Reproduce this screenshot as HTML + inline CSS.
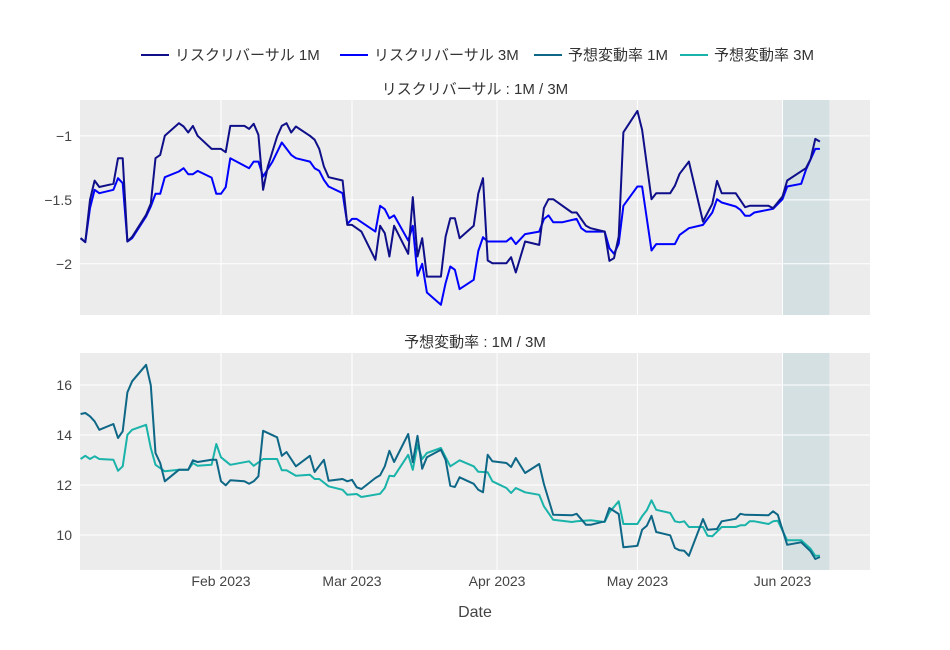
<!DOCTYPE html>
<html><head><meta charset="utf-8"><style>
html,body{margin:0;padding:0;background:#fff;}
svg{display:block;font-family:"Liberation Sans","Noto Sans CJK JP",sans-serif;}
</style></head><body>
<svg id="chart" width="950" height="650" viewBox="0 0 950 650" xmlns="http://www.w3.org/2000/svg"></svg>
<script>
// days since 2023-01-01
const rr1mDays=[1,2,3,4,5,8,9,10,11,12,15,16,17,18,19,22,23,24,25,26,29,31,32,33,36,37,38,39,40,41,43,44,45,46,47,50,51,52,53,54,57,58,59,61,64,65,66,67,68,71,72,73,74,75,78,79,80,81,82,85,86,87,88,89,92,93,94,96,99,100,101,102,106,107,109,110,113,114,115,116,117,120,121,123,124,127,128,129,131,134,136,137,138,141,143,144,148,149,151,152,156,157,158,159];
const rr1mValues=[-1.80,-1.83,-1.50,-1.35,-1.40,-1.375,-1.175,-1.175,-1.826,-1.79,-1.617,-1.53,-1.175,-1.149,-1.0,-0.901,-0.927,-0.974,-0.922,-1.0,-1.102,-1.102,-1.128,-0.922,-0.922,-0.946,-0.906,-0.992,-1.422,-1.24,-1.005,-0.922,-0.901,-0.974,-0.927,-1.0,-1.03,-1.104,-1.24,-1.323,-1.349,-1.696,-1.696,-1.748,-1.969,-1.703,-1.761,-1.943,-1.703,-1.922,-1.479,-1.943,-1.80,-2.10,-2.10,-1.787,-1.644,-1.644,-1.80,-1.703,-1.45,-1.331,-1.974,-1.995,-1.995,-1.948,-2.068,-1.826,-1.852,-1.565,-1.495,-1.495,-1.599,-1.599,-1.703,-1.722,-1.748,-1.977,-1.956,-1.787,-0.972,-0.805,-0.953,-1.495,-1.448,-1.448,-1.39,-1.297,-1.201,-1.67,-1.531,-1.352,-1.448,-1.448,-1.558,-1.547,-1.547,-1.565,-1.474,-1.349,-1.253,-1.182,-1.024,-1.045];
const rr3mDays=[1,2,3,4,5,8,9,10,11,12,15,16,17,18,19,22,23,24,25,26,29,30,31,32,33,37,38,39,40,42,44,46,47,50,51,52,53,54,57,58,59,60,64,65,66,67,68,71,72,73,74,75,78,79,80,81,82,85,86,87,88,92,93,94,96,99,100,101,102,104,107,108,109,113,114,115,116,117,120,121,123,124,128,129,131,134,136,137,138,141,142,143,144,145,149,151,152,155,156,158,159];
const rr3mValues=[-1.80,-1.83,-1.565,-1.422,-1.448,-1.422,-1.331,-1.37,-1.826,-1.80,-1.63,-1.552,-1.453,-1.453,-1.323,-1.279,-1.253,-1.30,-1.30,-1.274,-1.326,-1.453,-1.453,-1.401,-1.175,-1.253,-1.201,-1.201,-1.318,-1.201,-1.052,-1.149,-1.175,-1.201,-1.253,-1.274,-1.344,-1.396,-1.448,-1.688,-1.649,-1.649,-1.748,-1.547,-1.573,-1.644,-1.622,-1.818,-1.703,-2.094,-2.0,-2.224,-2.32,-2.151,-2.021,-2.047,-2.198,-2.125,-1.90,-1.792,-1.826,-1.826,-1.795,-1.846,-1.768,-1.748,-1.651,-1.622,-1.675,-1.675,-1.649,-1.722,-1.748,-1.748,-1.878,-1.922,-1.844,-1.547,-1.396,-1.396,-1.896,-1.846,-1.846,-1.774,-1.722,-1.696,-1.599,-1.495,-1.521,-1.552,-1.578,-1.625,-1.625,-1.599,-1.57,-1.495,-1.396,-1.375,-1.266,-1.102,-1.102];
const iv1mDays=[1,2,3,4,5,8,9,10,11,12,15,16,17,18,19,22,24,25,26,29,30,31,32,33,36,37,38,39,40,43,44,45,47,50,51,53,54,57,58,59,60,61,64,65,66,67,68,71,72,73,74,75,78,79,80,81,82,85,86,87,88,89,92,93,94,96,99,100,102,106,107,109,110,113,114,116,117,120,121,122,123,124,127,128,129,130,131,134,135,137,138,141,142,143,148,149,150,152,155,157,158,159];
const iv1mValues=[14.84,14.88,14.75,14.55,14.21,14.44,13.88,14.15,15.71,16.15,16.81,15.99,13.28,12.88,12.15,12.61,12.61,12.99,12.92,13.01,13.01,12.15,11.99,12.19,12.15,12.05,12.15,12.35,14.17,13.91,13.17,13.32,12.75,13.17,12.52,13.01,12.17,12.24,12.15,12.21,11.91,11.84,12.28,12.39,12.75,13.37,12.92,14.04,12.91,13.97,12.65,13.11,13.41,13.01,11.97,11.92,12.31,12.05,11.81,11.71,13.21,12.95,12.88,12.72,13.08,12.48,12.84,12.04,10.81,10.79,10.85,10.41,10.41,10.55,11.08,10.84,9.51,9.57,10.21,10.37,10.77,10.12,9.99,9.48,9.39,9.37,9.17,10.64,10.21,10.24,10.55,10.65,10.85,10.81,10.79,10.95,10.81,9.61,9.71,9.35,9.04,9.12];
const iv3mDays=[1,2,3,4,5,8,9,10,11,12,15,16,17,19,22,24,25,26,29,30,31,33,37,38,40,43,44,45,47,50,51,52,54,57,58,60,61,65,66,67,68,71,72,73,74,75,78,80,82,85,86,88,89,92,93,94,96,99,100,102,106,107,110,113,114,116,117,120,121,122,123,124,127,128,129,130,131,134,135,136,138,141,142,143,144,145,148,149,150,152,155,157,158,159];
const iv3mValues=[13.04,13.17,13.04,13.15,13.04,13.01,12.57,12.75,14.01,14.21,14.41,13.48,12.81,12.55,12.61,12.61,12.88,12.77,12.81,13.64,13.11,12.81,12.95,12.77,13.04,13.04,12.59,12.59,12.37,12.41,12.24,12.24,11.95,11.81,11.61,11.64,11.52,11.65,11.88,12.37,12.35,13.21,12.61,13.61,13.04,13.28,13.48,12.75,12.99,12.75,12.53,12.51,12.15,11.88,11.68,11.88,11.71,11.61,11.15,10.61,10.52,10.55,10.59,10.52,10.91,11.35,10.44,10.44,10.75,10.99,11.39,11.01,10.88,10.55,10.51,10.55,10.32,10.32,9.97,9.95,10.32,10.32,10.39,10.39,10.55,10.55,10.44,10.55,10.57,9.79,9.79,9.45,9.17,9.17];
const xTickDays=[31,59,90,120,151];
const xTickLabels=["Feb 2023","Mar 2023","Apr 2023","May 2023","Jun 2023"];
const topTicks=[-1,-1.5,-2];
const topTickLabels=["−1","−1.5","−2"];
const botTicks=[10,12,14,16];
const botTickLabels=["10","12","14","16"];
const shadeDays=[151,161];

const NS="http://www.w3.org/2000/svg";
const svg=document.getElementById('chart');
const X0=80,X1=870,D0=0.87,D1=169.7;
const xs=d=>X0+(d-D0)/(D1-D0)*(X1-X0);
const topP={y0:100,y1:315,v0:-0.72,v1:-2.40};
const botP={y0:353,y1:570,v0:17.28,v1:8.6};
const ys=(p,v)=>p.y0+(v-p.v0)/(p.v1-p.v0)*(p.y1-p.y0);
function mk(tag,attrs,parent){const e=document.createElementNS(NS,tag);for(const k in attrs)e.setAttribute(k,attrs[k]);(parent||svg).appendChild(e);return e;}

function panel(p,name,ticks,labels,title){
  const g=mk('g',{});
  
  
  const bg=mk('rect',{x:X0,y:p.y0,width:X1-X0,height:p.y1-p.y0,fill:'#ececec'},g);
  
  
  const sh=mk('rect',{x:xs(shadeDays[0]),y:p.y0,width:xs(shadeDays[1])-xs(shadeDays[0]),height:p.y1-p.y0,fill:'#d5e0e3'},g);
  
  
  xTickDays.forEach(d=>{const l=mk('line',{x1:xs(d),x2:xs(d),y1:p.y0,y2:p.y1,stroke:'#fff','stroke-width':1},g);
    
    });
  ticks.forEach((v,i)=>{const y=ys(p,v);
    const l=mk('line',{x1:X0,x2:X1,y1:y,y2:y,stroke:'#fff','stroke-width':1},g);
    
    
    const t=mk('text',{x:72,y:y+5,'text-anchor':'end','font-size':14,fill:'#444'},g);t.textContent=labels[i];
    
    });
  const tt=mk('text',{x:475,y:p.y0-6,'text-anchor':'middle','font-size':15,fill:'#333'},g);tt.textContent=title;
  
  
}
panel(topP,'risk-reversal-panel',topTicks,topTickLabels,'リスクリバーサル : 1M / 3M');
panel(botP,'implied-vol-panel',botTicks,botTickLabels,'予想変動率 : 1M / 3M');

function series(p,days,vals,color,name){
  const pts=days.map((d,i)=>xs(d).toFixed(1)+','+ys(p,vals[i]).toFixed(1)).join(' ');
  const pl=mk('polyline',{points:pts,fill:'none',stroke:color,'stroke-width':2,'stroke-linejoin':'round'});
  
  
}
series(topP,rr3mDays,rr3mValues,'#0000ff','rr-3m-line');
series(topP,rr1mDays,rr1mValues,'#0f0f8a','rr-1m-line');
series(botP,iv3mDays,iv3mValues,'#1ab3aa','iv-3m-line');
series(botP,iv1mDays,iv1mValues,'#0e6786','iv-1m-line');

xTickDays.forEach((d,i)=>{const t=mk('text',{x:xs(d),y:586,'text-anchor':'middle','font-size':14,fill:'#444'});t.textContent=xTickLabels[i];
  
  });
const xt=mk('text',{x:475,y:617,'text-anchor':'middle','font-size':16,fill:'#444'});xt.textContent='Date';



const legNames=['リスクリバーサル 1M','リスクリバーサル 3M','予想変動率 1M','予想変動率 3M'];
const legColors=['#0f0f8a','#0000ff','#0e6786','#1ab3aa'];
const legX=[141,340,534,680];
legNames.forEach((n,i)=>{
  const g=mk('g',{});
  
  
  mk('line',{x1:legX[i],x2:legX[i]+28,y1:55,y2:55,stroke:legColors[i],'stroke-width':2},g);
  const t=mk('text',{x:legX[i]+34,y:60,'font-size':15,fill:'#333'},g);t.textContent=n;
});
</script>
</body></html>
